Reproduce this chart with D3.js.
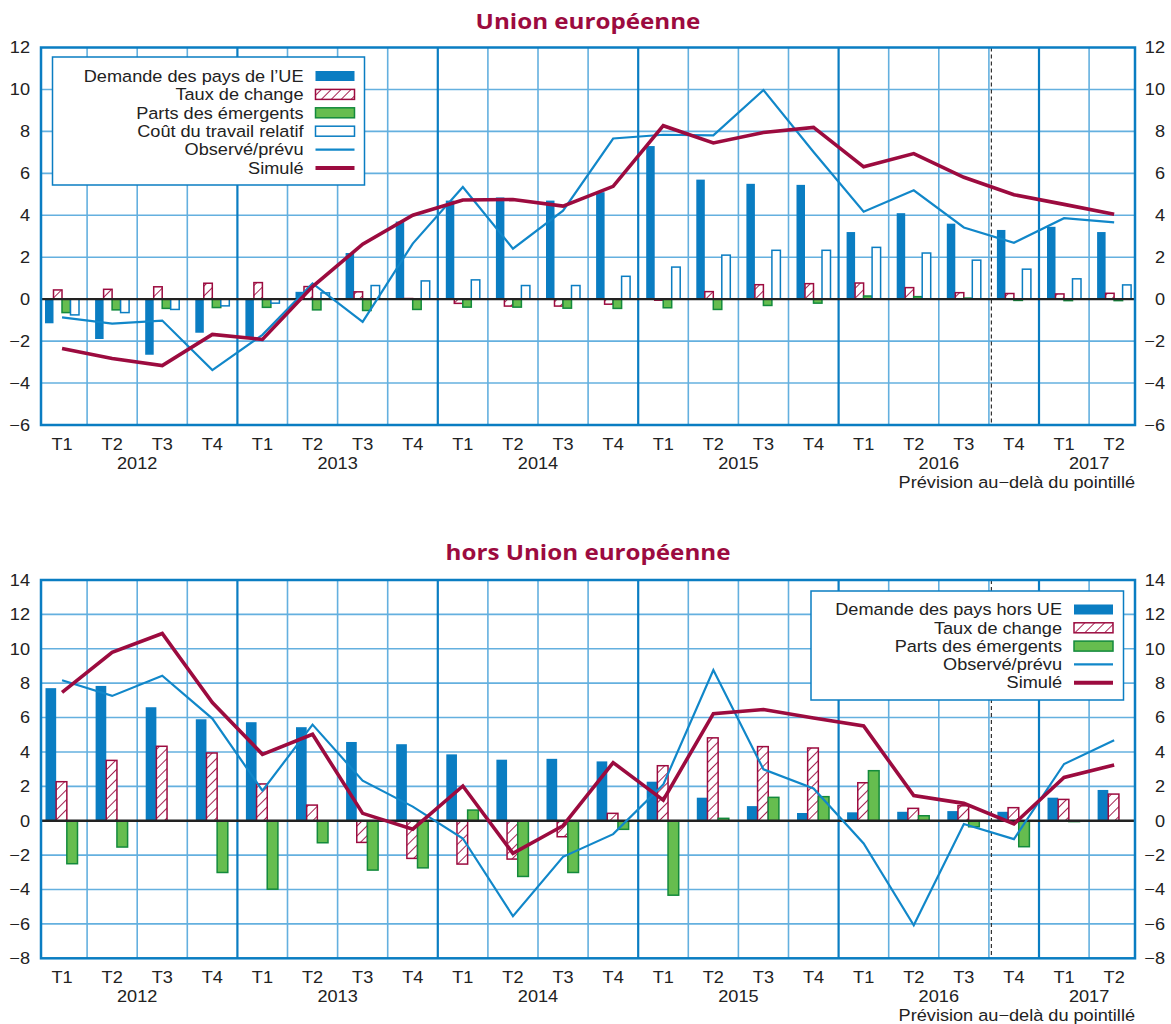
<!DOCTYPE html>
<html>
<head>
<meta charset="utf-8">
<script src="https://cdn.jsdelivr.net/npm/d3@7"></script>
<style>
  body { margin: 0; background: #fff; }
  text { font-family: "Liberation Sans", Arial, sans-serif; fill: #222; }
</style>
</head>
<body>
<div id="chart"></div>
<script>
// quarters 2012 T1 ... 2017 T2
const quarterLabels = ["T1","T2","T3","T4","T1","T2","T3","T4","T1","T2","T3","T4",
  "T1","T2","T3","T4","T1","T2","T3","T4","T1","T2"];
const years = ["2012","2013","2014","2015","2016","2017"];
const forecastFrom = 19; // T4 2016

// Union européenne
const ueDemande = [-1.15,-1.9,-2.65,-1.6,-1.85,0.35,2.2,3.7,4.7,4.85,4.7,5.1,7.3,5.7,5.5,5.45,3.2,4.1,3.6,3.3,3.45,3.2];
const ueTaux = [0.44,0.47,0.59,0.76,0.79,0.6,0.35,0.03,-0.2,-0.33,-0.33,-0.24,-0.05,0.36,0.69,0.74,0.77,0.55,0.31,0.27,0.25,0.28];
const ueParts = [-0.64,-0.51,-0.44,-0.4,-0.39,-0.51,-0.54,-0.49,-0.38,-0.38,-0.43,-0.44,-0.41,-0.49,-0.3,-0.19,0.15,0.12,0.05,-0.06,-0.07,-0.07];
const ueCout = [-0.75,-0.64,-0.49,-0.32,-0.19,0.3,0.65,0.87,0.92,0.65,0.65,1.09,1.53,2.1,2.33,2.33,2.47,2.2,1.86,1.43,0.97,0.68];
const ueObserve = [-0.87,-1.17,-1.02,-3.38,-1.7,0.75,-1.08,2.65,5.35,2.41,4.22,7.66,7.84,7.81,9.97,7.02,4.17,5.19,3.42,2.69,3.86,3.66];
const ueSimule = [-2.35,-2.83,-3.17,-1.68,-1.92,0.6,2.62,4.0,4.73,4.75,4.44,5.38,8.27,7.45,7.95,8.19,6.31,6.94,5.81,4.98,4.52,4.05];

// hors Union européenne
const horsDemande = [7.71,7.84,6.6,5.9,5.73,5.44,4.58,4.45,3.86,3.55,3.6,3.45,2.27,1.34,0.85,0.45,0.49,0.52,0.56,0.52,1.34,1.79];
const horsTaux = [2.27,3.51,4.33,3.94,2.14,0.91,-1.26,-2.19,-2.52,-2.23,-0.93,0.43,3.2,4.82,4.31,4.23,2.21,0.72,0.87,0.76,1.24,1.55];
const horsParts = [-2.5,-1.53,0,-3.01,-3.98,-1.28,-2.87,-2.74,0.62,-3.24,-3.01,-0.5,-4.33,0.14,1.36,1.4,2.91,0.29,-0.35,-1.51,-0.05,-0.03];
const horsObserve = [8.17,7.26,8.43,5.94,1.75,5.59,2.33,0.82,-1.03,-5.55,-2.1,-0.78,2.1,8.76,2.99,1.88,-1.32,-6.08,-0.19,-1.07,3.3,4.68];
const horsSimule = [7.46,9.79,10.89,6.87,3.86,5.03,0.43,-0.49,2.02,-1.9,-0.29,3.38,1.2,6.23,6.47,5.98,5.51,1.46,1.01,-0.19,2.52,3.24];

const BLUE = "#0a7dc2", LINE_BLUE = "#1187c9", RED = "#9c0b3f";
const GREEN = "#66bd4f", DKGREEN = "#138a3c", GRID = "#64b0df";
const SX = 1.1; // the source text is a bit wide

const plotLeft = 41, plotRight = 1135;
const x = d3.scaleBand().domain(d3.range(quarterLabels.length)).range([37, 1139.2]);

const svg = d3.select("#chart").append("svg").attr("width", 1171).attr("height", 1024);

const hatch = svg.append("defs").append("pattern")
  .attr("id", "hatch")
  .attr("patternUnits", "userSpaceOnUse")
  .attr("width", 7).attr("height", 7)
  .attr("patternTransform", "rotate(45)");
hatch.append("rect").attr("width", 7).attr("height", 7).attr("fill", "#fff");
hatch.append("line").attr("x1", 3.5).attr("x2", 3.5).attr("y1", 0).attr("y2", 7)
  .attr("stroke", RED).attr("stroke-width", 0.9);

const styles = {
  demande: { fill: BLUE, stroke: "none", sw: 0 },
  taux: { fill: "url(#hatch)", stroke: RED, sw: 1.5 },
  parts: { fill: GREEN, stroke: DKGREEN, sw: 1.5 },
  cout: { fill: "#fff", stroke: BLUE, sw: 1.5 },
};

function label(g, px, py, s, anchor, size) {
  return g.append("text")
    .attr("transform", `translate(${px},${py}) scale(${SX},1)`)
    .attr("text-anchor", anchor)
    .attr("dy", "0.35em")
    .style("font-size", size + "px")
    .text(s);
}

function drawPanel(cfg) {
  const y = d3.scaleLinear().domain([cfg.yMin, cfg.yMax]).range([cfg.bottom, cfg.top]);
  const ticks = d3.range(cfg.yMin, cfg.yMax + 1, 2);
  const g = svg.append("g");

  // title
  g.append("text")
    .attr("transform", `translate(588,${cfg.titleY}) scale(${SX},1)`)
    .attr("text-anchor", "middle")
    .attr("dy", "0.35em")
    .style("font-family", "'Open Sans', 'Noto Sans', sans-serif")
    .style("font-weight", 700)
    .style("font-size", "22px")
    .style("fill", RED)
    .text(cfg.title);

  // grid
  g.append("g").selectAll("line")
    .data(ticks.filter((t) => t > cfg.yMin && t < cfg.yMax))
    .join("line")
    .attr("x1", plotLeft).attr("x2", plotRight)
    .attr("y1", (d) => y(d)).attr("y2", (d) => y(d))
    .attr("stroke", GRID).attr("stroke-width", 1.6);

  g.append("g").selectAll("line")
    .data(d3.range(1, quarterLabels.length))
    .join("line")
    .attr("x1", (i) => x(i)).attr("x2", (i) => x(i))
    .attr("y1", cfg.top).attr("y2", cfg.bottom)
    .attr("stroke", (i) => (i % 4 === 0 ? BLUE : GRID))
    .attr("stroke-width", (i) => (i % 4 === 0 ? 2.2 : 1.6));

  // forecast marker
  g.append("line")
    .attr("x1", x(forecastFrom) + 2.5).attr("x2", x(forecastFrom) + 2.5)
    .attr("y1", cfg.top).attr("y2", cfg.bottom)
    .attr("stroke", "#333").attr("stroke-width", 1.2)
    .attr("stroke-dasharray", "4,3");

  // bars
  const x1 = d3.scaleBand().domain(cfg.bars.map((b) => b.key)).range(cfg.barRange);
  cfg.bars.forEach((b) => {
    const st = styles[b.key];
    g.append("g").selectAll("rect")
      .data(b.values)
      .join("rect")
      .attr("x", (d, i) => x(i) + x1(b.key))
      .attr("width", x1.bandwidth())
      .attr("y", (d) => y(Math.max(0, d)))
      .attr("height", (d) => Math.abs(y(d) - y(0)))
      .attr("fill", st.fill)
      .attr("stroke", st.stroke)
      .attr("stroke-width", st.sw);
  });

  // zero line
  g.append("line")
    .attr("x1", plotLeft).attr("x2", plotRight)
    .attr("y1", y(0)).attr("y2", y(0))
    .attr("stroke", "#222").attr("stroke-width", 2.4);

  // lines
  const line = d3.line()
    .x((d, i) => x(i) + x.bandwidth() / 2)
    .y((d) => y(d));
  g.append("path").datum(cfg.observe)
    .attr("d", line).attr("fill", "none")
    .attr("stroke", LINE_BLUE).attr("stroke-width", 2.2);
  g.append("path").datum(cfg.simule)
    .attr("d", line).attr("fill", "none")
    .attr("stroke", RED).attr("stroke-width", 3.6);

  // border
  g.append("rect")
    .attr("x", plotLeft).attr("y", cfg.top)
    .attr("width", plotRight - plotLeft).attr("height", cfg.bottom - cfg.top)
    .attr("fill", "none").attr("stroke", BLUE).attr("stroke-width", 2.5);

  // axes
  const fmt = d3.format("d");
  const styleTicks = (a) => {
    a.select(".domain").remove();
    a.selectAll("text")
      .attr("transform", `scale(${SX},1)`)
      .style("font-size", "16.5px")
      .style("fill", "#222");
  };
  g.append("g")
    .attr("transform", `translate(${plotLeft},0)`)
    .call(d3.axisLeft(y).tickValues(ticks).tickSize(0).tickPadding(10).tickFormat(fmt))
    .call(styleTicks);
  g.append("g")
    .attr("transform", `translate(${plotRight},0)`)
    .call(d3.axisRight(y).tickValues(ticks).tickSize(0).tickFormat(fmt))
    .call(styleTicks)
    .call((a) => a.selectAll("text").attr("text-anchor", "end").attr("x", 30 / SX));
  g.append("g")
    .attr("transform", `translate(0,${cfg.bottom})`)
    .call(d3.axisBottom(x).tickSize(0).tickPadding(13).tickFormat((i) => quarterLabels[i]))
    .call(styleTicks);

  years.forEach((yr, k) => {
    const i0 = k * 4, i1 = Math.min(k * 4 + 4, quarterLabels.length);
    label(g, (x(i0) + x(i1 - 1) + x.bandwidth()) / 2, cfg.bottom + 38, yr, "middle", 16.5);
  });
  label(g, plotRight, cfg.bottom + 57, "Prévision au\u2212delà du pointillé", "end", 16.5);

  // legend
  const L = cfg.legend;
  const lg = g.append("g");
  lg.append("rect")
    .attr("x", L.x).attr("y", L.y).attr("width", L.w).attr("height", L.h)
    .attr("fill", "#fff").attr("stroke", BLUE).attr("stroke-width", 1.5);
  L.items.forEach((it, k) => {
    const cy = L.y + L.first + k * L.step;
    label(lg, L.x + 251, cy, it.label, "end", 16.5);
    const sx = L.x + 263;
    if (it.type === "line") {
      lg.append("line")
        .attr("x1", sx).attr("x2", sx + 39).attr("y1", cy).attr("y2", cy)
        .attr("stroke", it.key === "observe" ? LINE_BLUE : RED)
        .attr("stroke-width", it.key === "observe" ? 2.4 : 4);
    } else {
      const st = styles[it.key];
      lg.append("rect")
        .attr("x", sx).attr("y", cy - 5).attr("width", 39).attr("height", 10)
        .attr("fill", st.fill).attr("stroke", st.stroke).attr("stroke-width", st.sw);
    }
  });
}

drawPanel({
  title: "Union européenne", titleY: 21,
  top: 47.5, bottom: 425, yMin: -6, yMax: 12,
  barRange: [8, 42],
  bars: [
    { key: "demande", values: ueDemande },
    { key: "taux", values: ueTaux },
    { key: "parts", values: ueParts },
    { key: "cout", values: ueCout },
  ],
  observe: ueObserve, simule: ueSimule,
  legend: {
    x: 52.5, y: 57, w: 312, h: 128, first: 19, step: 18.4,
    items: [
      { label: "Demande des pays de l’UE", key: "demande" },
      { label: "Taux de change", key: "taux" },
      { label: "Parts des émergents", key: "parts" },
      { label: "Coût du travail relatif", key: "cout" },
      { label: "Observé/prévu", key: "observe", type: "line" },
      { label: "Simulé", key: "simule", type: "line" },
    ],
  },
});

drawPanel({
  title: "hors Union européenne", titleY: 552,
  top: 580, bottom: 958.3, yMin: -8, yMax: 14,
  barRange: [8.5, 40.5],
  bars: [
    { key: "demande", values: horsDemande },
    { key: "taux", values: horsTaux },
    { key: "parts", values: horsParts },
  ],
  observe: horsObserve, simule: horsSimule,
  legend: {
    x: 811, y: 591, w: 312.5, h: 109, first: 18.5, step: 18.3,
    items: [
      { label: "Demande des pays hors UE", key: "demande" },
      { label: "Taux de change", key: "taux" },
      { label: "Parts des émergents", key: "parts" },
      { label: "Observé/prévu", key: "observe", type: "line" },
      { label: "Simulé", key: "simule", type: "line" },
    ],
  },
});
</script>
</body>
</html>
